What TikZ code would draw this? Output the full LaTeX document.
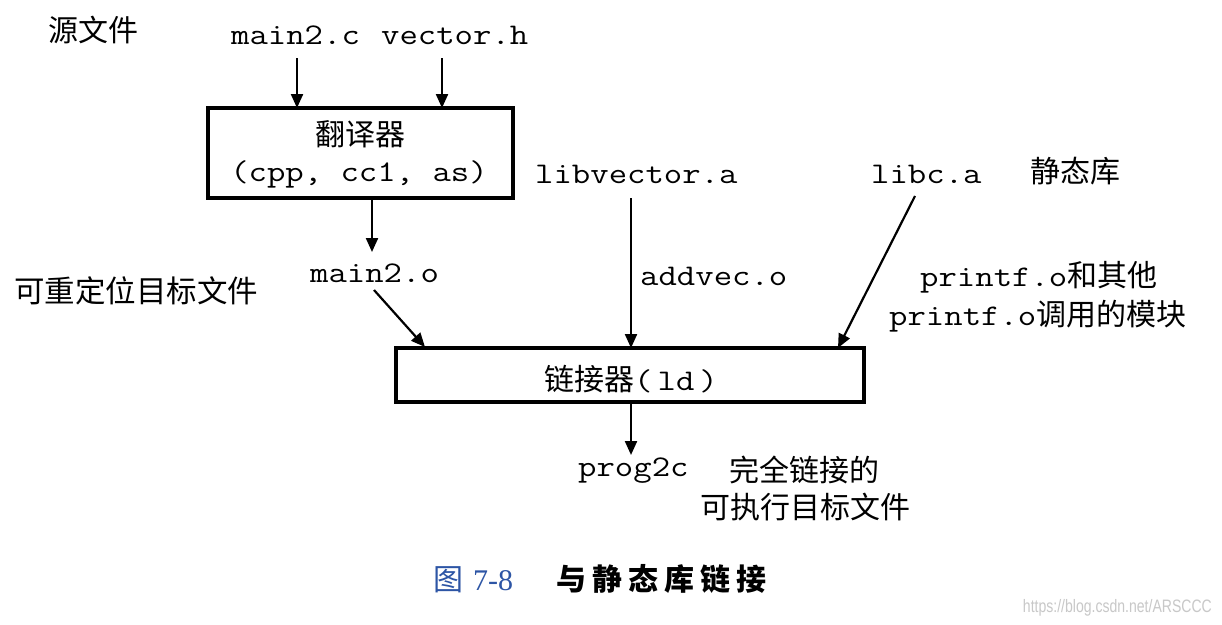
\documentclass[tikz,border=0pt]{standalone}
\usepackage{fontspec}
\setmainfont{Liberation Serif}
\setmonofont[FakeStretch=1.19]{Latin Modern Mono}
\newfontfamily\cjk{Noto Sans CJK SC}
\newfontfamily\cjkcap[LetterSpace=20]{Noto Sans CJK SC}
\newfontfamily\wmfont{Liberation Sans}
\usetikzlibrary{arrows.meta}
\definecolor{capblue}{RGB}{45,85,165}
\definecolor{wmgray}{RGB}{200,200,200}
\begin{document}
\begin{tikzpicture}[x=1pt,y=-1pt,
  mono/.style={font=\fontsize{30}{36}\selectfont\ttfamily, inner sep=0pt},
  cn/.style={font=\fontsize{30}{36}\selectfont\cjk, inner sep=0pt},
  frame/.style={draw, line width=4.5pt, inner sep=0pt},
  arr/.style={line width=2.2pt, -{Triangle[length=14pt,width=12pt]}}]
\useasboundingbox (0,0) rectangle (1222,624);
\fill[white] (0,0) rectangle (1222,624);

% top labels
\node[cn, anchor=base west] (src) at (48,41) {源文件};
\node[mono, anchor=base west] (mainc) at (231,44) {main2.c};
\node[mono, anchor=base west] (vech) at (381,44) {vector.h};

% translator box
\node[frame, minimum width=305pt, minimum height=90pt] (trans) at (360.5,153) {};
\node[cn, anchor=base] (transA) at (360,145) {翻译器};
\node[mono, anchor=base] (transB) at (359,181) {(cpp, cc1, as)};

\coordinate (c1s) at (297,58);
\coordinate (c1e) at (297,108);
\coordinate (c2s) at (442,58);
\coordinate (c2e) at (442,108);
\draw[arr] (c1s) -- (c1e);
\draw[arr] (c2s) -- (c2e);

% relocatable objects
\node[mono, anchor=base west] (m2o) at (310,282) {main2.o};
\node[cn, anchor=base west, font=\fontsize{30.5}{36}\selectfont\cjk] (reloc) at (14,302) {可重定位目标文件};
\coordinate (t1s) at (372,198);
\coordinate (t1e) at (372,252);
\draw[arr] (t1s) -- (t1e);

% libraries
\node[mono, anchor=base west] (libv) at (535,183) {libvector.a};
\node[mono, anchor=base west] (addv) at (640,285) {addvec.o};
\node[mono, anchor=base west] (libc) at (871,183) {libc.a};
\node[cn, anchor=base west] (stat) at (1030,182) {静态库};
\node[mono, anchor=base west] (pf1) at (920,286) {printf.o{\cjk 和其他}};
\node[mono, anchor=base west] (pf2) at (889,325) {printf.o{\cjk 调用的模块}};

% linker box
\node[frame, line width=4pt, minimum width=468pt, minimum height=54pt] (ld) at (630,375) {};
\node[cn, anchor=base] (ldt) at (631,390) {链接器{\ttfamily (\,ld\,)}};

\coordinate (a1s) at (374,290);
\coordinate (a1e) at (425,347);
\coordinate (a2s) at (631,198);
\coordinate (a2e) at (631,348);
\coordinate (a3s) at (915,196);
\coordinate (a3e) at (838,348);
\draw[arr] (a1s) -- (a1e);
\draw[arr] (a2s) -- (a2e);
\draw[arr] (a3s) -- (a3e);

% output
\coordinate (o1s) at (631,402);
\coordinate (o1e) at (631,455);
\draw[arr] (o1s) -- (o1e);
\node[mono, anchor=base west] (prog) at (578,476) {prog2c};
\node[cn, anchor=base west] (full1) at (729,481) {完全链接的};
\node[cn, anchor=base west] (full2) at (700,518) {可执行目标文件};

% caption
\node[inner sep=0pt, anchor=base west, text=capblue, font=\fontsize{30}{34}\selectfont] (capn) at (433,590) {{\cjk 图}\kern 10pt 7-8};
\node[inner sep=0pt, anchor=base west, font=\fontsize{30}{34}\selectfont\cjkcap\bfseries] (capt) at (556,590) {与静态库链接};
\node[inner sep=0pt, anchor=base east, text=wmgray, font=\fontsize{18}{20}\selectfont\wmfont] (wm) at (1212,612) {\scalebox{0.78}[1]{https://blog.csdn.net/ARSCCC}};
\end{tikzpicture}
\end{document}
